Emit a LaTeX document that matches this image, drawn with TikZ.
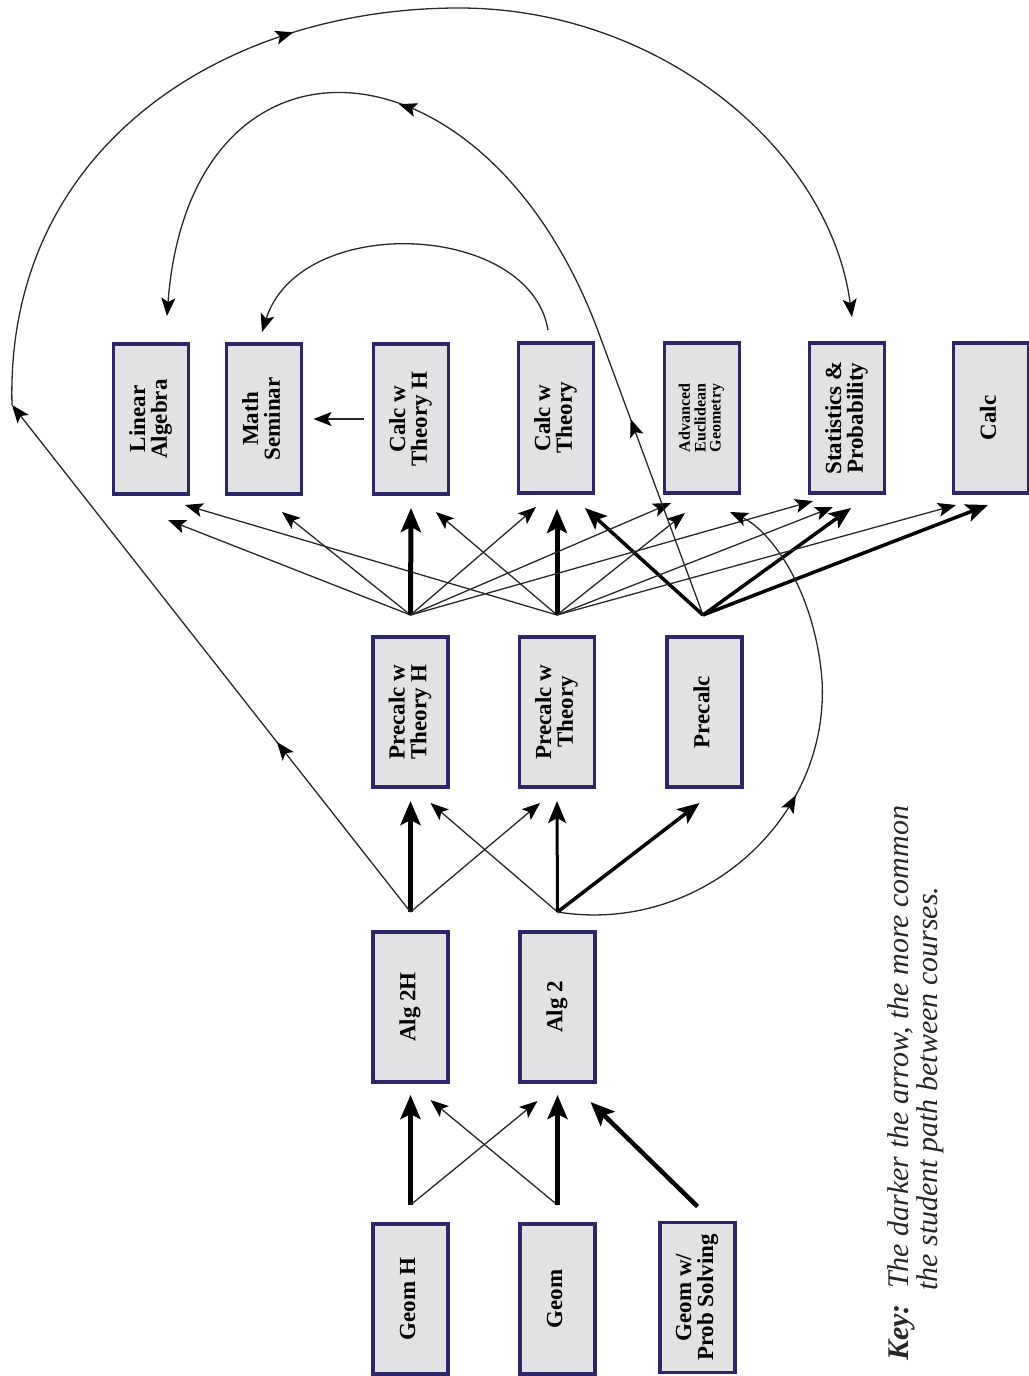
\documentclass[tikz,border=0pt]{standalone}
\usepackage{fontspec}
\setmainfont{Liberation Serif}
\usepackage{graphicx}
\usetikzlibrary{arrows.meta,calc,decorations.markings}

\definecolor{boxline}{RGB}{45,38,105}
\definecolor{boxfill}{RGB}{226,226,228}
\definecolor{wire}{RGB}{40,40,40}

% rotated, centred course title
\newcommand{\coursetitle}[1]{\rotatebox{90}{\begin{tabular}{@{}c@{}}#1\end{tabular}}}

\tikzset{
  course/.style={draw=boxline, fill=boxfill, line width=3.5pt, outer sep=0pt,
    minimum width=75pt, minimum height=150pt, inner sep=0pt,
    font=\bfseries\fontsize{23}{20}\selectfont},
  lightpath/.style={draw=wire, line width=1.3pt,
    -{Stealth[length=18pt,width=14pt,inset=4pt,color=black]}},
  midpath/.style={draw=black, line width=3.5pt, -{Stealth[length=22pt,width=18pt,inset=5pt]}},
  heavypath/.style={draw=black, line width=5pt, -{Stealth[length=24pt,width=20pt,inset=5pt]}},
  midarrow/.style={postaction={decorate}, decoration={markings,
    mark=at position #1 with {\arrow{Stealth[length=18pt,width=14pt,inset=4pt,color=black]}}}},
  keytext/.style={rotate=90, anchor=base west, text=black!85,
    font=\fontsize{30}{29}\selectfont\itshape, inner sep=0pt},
}

\begin{document}
\begin{tikzpicture}[x=1pt,y=-1pt]
\path[use as bounding box, fill=white] (0,0) rectangle (1028,1376);

% ---------- courses ----------
\node[course] (la)   at (151,419)   {\coursetitle{Linear\\Algebra}};
\node[course] (ms)   at (264,419)   {\coursetitle{Math\\Seminar}};
\node[course] (cth)  at (411,419)   {\coursetitle{Calc w\\Theory H}};
\node[course] (ct)   at (556,418)   {\coursetitle{Calc w\\Theory}};
\node[course, font=\bfseries\fontsize{16}{15}\selectfont] (aeg) at (702,418)
  {\coursetitle{Advanced\\Euclidean\\Geometry}};
\node[course] (sp)   at (847,418)   {\coursetitle{Statistics \&\\Probability}};
\node[course] (calc) at (991,418)   {\coursetitle{Calc}};

\node[course] (pch)  at (410.5,712) {\coursetitle{Precalc w\\Theory H}};
\node[course] (pct)  at (557,712)   {\coursetitle{Precalc w\\Theory}};
\node[course] (pc)   at (704.5,712) {\coursetitle{Precalc}};

\node[course] (a2h)  at (410.5,1007) {\coursetitle{Alg 2H}};
\node[course] (a2)   at (557.5,1007) {\coursetitle{Alg 2}};

\node[course] (gh)   at (410.5,1299) {\coursetitle{Geom H}};
\node[course] (gm)   at (557.5,1299) {\coursetitle{Geom}};
\node[course] (gps)  at (697.5,1297.5) {\coursetitle{Geom w/\\Prob Solving}};

% ---------- fan-out points above each course ----------
\coordinate (gh-out)  at ($(gh.north)+(0,-19)$);
\coordinate (gm-out)  at ($(gm.north)+(0,-19)$);
\coordinate (gps-out) at ($(gps.north)+(0,-16)$);
\coordinate (a2h-out) at ($(a2h.north)+(0,-20)$);
\coordinate (a2-out)  at ($(a2.north)+(0,-20)$);
\coordinate (pch-out) at ($(pch.north)+(0,-22)$);
\coordinate (pct-out) at ($(pct.north)+(0,-22)$);
\coordinate (pc-out)  at ($(pc.north)+(-1.5,-22)$);

% ---------- geometry -> algebra 2 ----------
\draw[heavypath] (gh-out)  -- ($(a2h.south)+(0,13)$);
\draw[lightpath] (gh-out)  -- ($(a2.south)+(-20,19)$);
\draw[lightpath] (gm-out)  -- ($(a2h.south)+(20,18)$);
\draw[heavypath] (gm-out)  -- ($(a2.south)+(0,13)$);
\draw[heavypath, line width=4.5pt] (gps-out) -- ($(a2.south)+(33,20)$);

% ---------- algebra 2 -> precalculus ----------
\draw[heavypath] (a2h-out) -- ($(pch.south)+(0,14)$);
\draw[lightpath] (a2h-out) -- ($(pct.south)+(-17,16)$);
\draw[lightpath] (a2-out)  -- ($(pch.south)+(20,16)$);
\draw[midpath, line width=3pt] (a2-out) -- ($(pct.south)+(0,14)$);
\draw[midpath] (a2-out)    -- ($(pc.south)+(-5,16)$);

% ---------- precalculus -> upper courses ----------
\draw[lightpath] (pch-out) -- ($(la.south)+(17,26)$);
\draw[lightpath] (pct-out) -- ($(la.south)+(34,11)$);
\draw[lightpath] (pch-out) -- ($(ms.south)+(18,18)$);
\draw[heavypath] (pch-out) -- ($(cth.south)+(0,14)$);
\draw[lightpath] (pct-out) -- ($(cth.south)+(25,18)$);
\draw[lightpath] (pch-out) -- ($(ct.south)+(-20,14)$);
\draw[heavypath] (pct-out) -- ($(ct.south)+(1,16)$);
\draw[midpath]   (pc-out)  -- ($(ct.south)+(29,15)$);
\draw[lightpath] (pch-out) -- ($(aeg.south)+(-31,10)$);
\draw[lightpath] (pct-out) -- ($(aeg.south)+(-17,20)$);
\draw[lightpath] (pch-out) -- ($(sp.south)+(-34,8)$);
\draw[lightpath] (pct-out) -- ($(sp.south)+(-14,14)$);
\draw[midpath]   (pc-out)  -- ($(sp.south)+(4,15)$);
\draw[lightpath] (pct-out) -- ($(calc.south)+(-35,12)$);
\draw[midpath]   (pc-out)  -- ($(calc.south)+(-3,12)$);

% ---------- among the upper courses ----------
\draw[lightpath] ($(cth.west)+(-10,0)$) -- ($(ms.east)+(12,0)$);
\draw[lightpath] ($(ct.north)+(-8,-13)$)
  .. controls (530,222) and (300,212) .. ($(ms.north)+(-2,-12)$);

% Precalc -> Linear Algebra, over the top
\coordinate (pc-rise) at ($(ct.north east)+(6,-8)$);
\draw[lightpath, -, midarrow=0.7] (pc-out) -- (pc-rise);
\draw[lightpath, midarrow=0.46] (pc-rise)
  .. controls (486,25) and (190,10) .. ($(la.north)+(16,-28)$);

% Alg 2H -> Statistics & Probability, round the far left
\coordinate (far-left) at (12,405);
\draw[lightpath, midarrow=0.335] (a2h-out) -- (far-left);
\draw[lightpath, midarrow=0.415] (far-left)
  .. controls (5,150) and (220,8) .. (459,8)
  .. controls (660,8) and (830,150) .. ($(sp.north)+(5,-26)$);

% Alg 2 -> Advanced Euclidean Geometry, round the right
\draw[lightpath, midarrow=0.47] (a2-out)
  .. controls (700,935) and (830,820) .. (822,680)
  .. controls (815,590) and (770,530) .. ($(aeg.south)+(28,19)$);

% ---------- key ----------
\node[keytext, font=\fontsize{30}{29}\selectfont\bfseries\itshape] (key) at (908,1361) {Key:};
\node[keytext] (key-a) at (908,1289) {The darker the arrow, the more common};
\node[keytext] (key-b) at (937,1291) {the student path between courses.};
\end{tikzpicture}
\end{document}
